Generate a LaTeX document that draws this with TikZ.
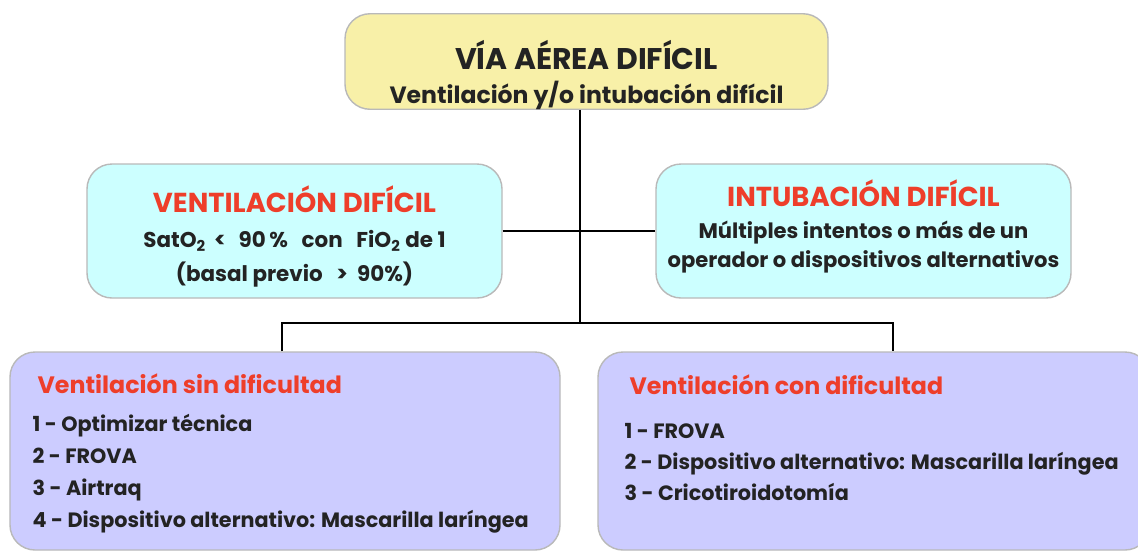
\documentclass[tikz,border=0pt]{standalone}
\usepackage{fontspec}
\setmainfont{Poppins}
\usepackage{xcolor}
\usetikzlibrary{positioning, calc}
\definecolor{cremebox}{RGB}{248,240,168}
\definecolor{cyanbox}{RGB}{204,255,255}
\definecolor{lilabox}{RGB}{204,204,255}
\definecolor{rojotxt}{RGB}{238,62,42}
\definecolor{textgray}{RGB}{35,35,35}

\begin{document}
\begin{tikzpicture}[
  box/.style   = {rectangle, rounded corners=0.5cm, draw=gray!55, line width=0.8pt,
                  inner sep=0, align=center, text=textgray, font=\bfseries},
  topbox/.style  = {box, fill=cremebox, minimum width=9.66cm, minimum height=1.86cm},
  midbox/.style  = {box, fill=cyanbox, minimum width=8.3cm, minimum height=2.68cm},
  lowbox/.style  = {box, fill=lilabox, minimum width=11cm, minimum height=3.96cm},
  head/.style  = {font=\bfseries\fontsize{13.5}{17}\selectfont, text=rojotxt, inner sep=0},
  list/.style  = {font=\bfseries\fontsize{11.8}{18.2}\selectfont, text=textgray,
                  align=left, anchor=north west, inner sep=0},
  link/.style  = {draw=black, line width=1.1pt},
]
\useasboundingbox (0,0) rectangle (22.76,-11.02);
% ── boxes ──
\node[topbox] (top) at (11.73,-1.23)
  {\rule{0pt}{32pt}{\fontsize{17}{20}\selectfont VÍA AÉREA DIFÍCIL}\\[5pt]
   {\fontsize{13.4}{15}\selectfont Ventilación y/o intubación difícil}};
\node[midbox] (vd) at (5.89,-4.62)
  {\rule{0pt}{21pt}{\color{rojotxt}\fontsize{15.6}{17}\selectfont VENTILACIÓN DIFÍCIL}\\[8pt]
   \fontsize{12.2}{18}\selectfont SatO\textsubscript{2}\ \,<\ \ \,90\,\%\ \ \ con\ \ \ FiO\textsubscript{2}\ de 1\\[5pt]
   \fontsize{12.2}{18}\selectfont (basal previo\ \ \ >\ \ 90\%)};
\node[midbox] (id) at (17.27,-4.62)
  {{\color{rojotxt}\fontsize{15.6}{17}\selectfont INTUBACIÓN DIFÍCIL}\\[6pt]
   \fontsize{12}{17}\selectfont Múltiples intentos o más de un\\[3pt]
   \fontsize{12}{17}\selectfont operador o dispositivos alternativos\rule[-8pt]{0pt}{1pt}};
\node[lowbox] (vsd) at (5.7,-9.02) {};
\node[lowbox, minimum width=11.04cm] (vcd) at (17.48,-9.02) {};
% ── box texts ──
\node[head, anchor=west] (vsdhead) at ($(vsd.north west)+(0.56,-0.64)$) {Ventilación sin dificultad};
\node[list] at ($(vsd.north west)+(0.46,-1.26)$)
  {1 - Optimizar técnica\\ 2 - FROVA\\ 3 - Airtraq\\ 4 - Dispositivo alternativo: Mascarilla laríngea};
\node[head, anchor=west] (vcdhead) at ($(vcd.north west)+(0.64,-0.66)$) {Ventilación con dificultad};
\node[list, font=\bfseries\fontsize{11.8}{17.6}\selectfont] at ($(vcd.north west)+(0.54,-1.43)$)
  {1 - FROVA\\ 2 - Dispositivo alternativo: Mascarilla laríngea\\ 3 - Cricotiroidotomía};
% ── connectors ──
\coordinate (hub) at (11.6,-6.46);
\draw[link] (hub |- top.south) -- (hub);
\draw[link] (vd.east) -- (id.west);
\draw[link] ([xshift=-0.06cm]vsd.north) |- (hub) -| ([xshift=0.38cm]vcd.north);
\end{tikzpicture}
\end{document}
